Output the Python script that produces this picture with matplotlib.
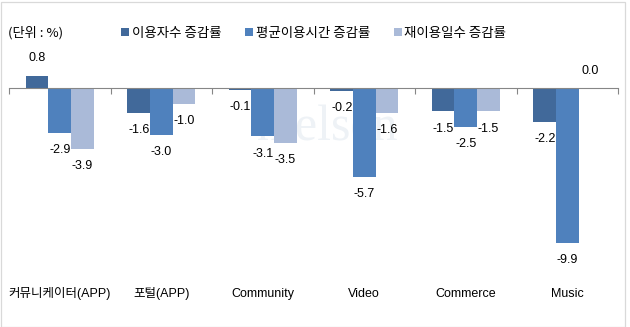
import matplotlib
matplotlib.use("Agg")
import matplotlib.pyplot as plt
from matplotlib.lines import Line2D
from matplotlib.patches import Rectangle
from matplotlib.transforms import blended_transform_factory
import numpy as np

categories = ["커뮤니케이터(APP)", "포털(APP)", "Community", "Video", "Commerce", "Music"]
series_names = ["이용자수 증감률", "평균이용시간 증감률", "재이용일수 증감률"]
users_change = [0.8, -1.6, -0.1, -0.2, -1.5, -2.2]
time_change = [-2.9, -3.0, -3.1, -5.7, -2.5, -9.9]
revisit_change = [-3.9, -1.0, -3.5, -1.6, -1.5, 0.0]
unit_label = "(단위 : %)"

colors = ["#41699A", "#4F81BD", "#AABAD8"]
KR = ["Noto Sans CJK KR", "DejaVu Sans"]
MIX = ["Liberation Sans", "Noto Sans CJK KR"]

W, H = 630, 327
fig = plt.figure(figsize=(W / 100, H / 100), dpi=100)
ax = fig.add_axes([9 / W, 1 - 250 / H, 609 / W, 210 / H])

x = np.arange(len(categories))
bw = 0.222
series = [users_change, time_change, revisit_change]
for i, (vals, col) in enumerate(zip(series, colors)):
    pos = x + (i - 1) * bw
    ax.bar(pos, vals, width=bw, color=col, linewidth=0, zorder=2)
    for px, v in zip(pos, vals):
        off = 12.3 if v >= 0 else -12.3
        ax.annotate(f"{v:.1f}", (px, v), xytext=(0, off), textcoords="offset points",
                    ha="center", va="center", fontsize=9, family="Liberation Sans",
                    color="#000000", zorder=3)

ax.set_xlim(-0.5, len(categories) - 0.5)
ax.set_ylim(-10.38, 3.08)

for s in ("left", "right", "top"):
    ax.spines[s].set_visible(False)
ax.spines["bottom"].set_position(("data", 0))
ax.spines["bottom"].set_color("#868686")
ax.spines["bottom"].set_linewidth(0.8)
ax.spines["bottom"].set_zorder(4)
ax.set_yticks([])
ax.set_xticks(np.arange(-0.5, len(categories), 1.0))
ax.set_xticklabels([])
ax.tick_params(axis="x", direction="out", length=4, width=0.8, color="#868686")
ax.patch.set_visible(False)

# category names along the bottom of the chart
btr = blended_transform_factory(ax.transData, fig.transFigure)
for xi, name in zip(x, categories):
    ax.text(xi, 1 - 294 / H, name, transform=btr, ha="center", va="center",
            fontsize=9, family=MIX, color="#000000")

# faint watermark behind the bars
ax.text(328 / W, 1 - 128 / H, "nielsen", transform=fig.transFigure, ha="center",
        va="center", fontsize=36, family="Liberation Serif", color="#EEF2F6", zorder=1)

fig.text(8 / W, 1 - 33 / H, unit_label, ha="left", va="center",
         fontsize=9.5, family=KR, color="#000000")

handles = [Line2D([], [], linestyle="none", marker="s", markersize=5.8,
                  markerfacecolor=c, markeredgewidth=0) for c in colors]
fig.legend(handles, series_names, loc="center left",
           bbox_to_anchor=(121 / W, 1 - 33 / H), ncol=3, frameon=False,
           prop={"family": KR, "size": 9.7}, handlelength=0.6, handletextpad=0.2,
           columnspacing=1.75, borderpad=0, borderaxespad=0)

fig.patches.append(Rectangle((1 / W, 0.5 / H), 624 / W, 325 / H, transform=fig.transFigure,
                             fill=False, edgecolor="#D9D9D9", linewidth=0.9))

fig.savefig("out.png", dpi=100)
